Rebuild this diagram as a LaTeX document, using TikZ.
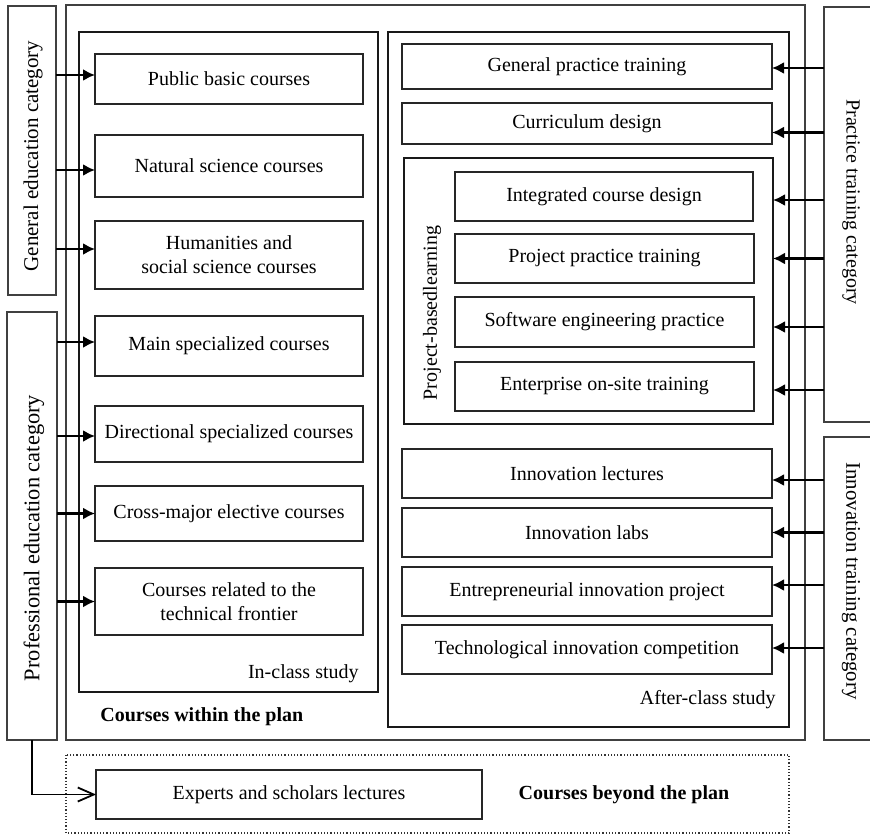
\documentclass[tikz,border=0pt]{standalone}
\usepackage{fontspec}
\setmainfont{Liberation Serif}
\usetikzlibrary{arrows.meta,fit}
\begin{document}
\begin{tikzpicture}[x=0.5pt,y=-0.5pt,
  every node/.style={font=\fontsize{10}{12}\selectfont},
  txt/.style={inner sep=0pt, align=center},
  boldtxt/.style={inner sep=0pt,font=\fontsize{10}{12}\selectfont\bfseries},
  plan/.style={draw=black!75, line width=0.6pt, inner sep=0pt, outer sep=0pt},
  studyframe/.style={draw=black!90, line width=1pt, inner sep=0pt, outer sep=0pt},
  pblframe/.style={draw=black!90, line width=1.3pt, inner sep=0pt, outer sep=0pt},
  cbox/.style={draw=black!85, line width=0.8pt, inner sep=0pt, outer sep=0pt},
  catbox/.style={draw=black!75, line width=0.6pt, inner sep=0pt, outer sep=0pt},
  arr/.style={line width=1.1pt, -{Latex[length=6pt,width=6pt]}},
  openarr/.style={line width=0.9pt, -{Straight Barb[length=8pt,width=7pt]}},
]
\useasboundingbox (0,0) rectangle (870,834);

% frames
\node[plan, fit={(66,5) (805,740)}] (planbox) {};
\node[studyframe, fit={(79,32) (378,692)}] (inclass) {};
\node[studyframe, fit={(388,32) (789,727)}] (afterclass) {};
\node[pblframe, fit={(404,158) (773,424)}] (pbl) {};
\draw[densely dotted, line width=0.6pt, draw=black!80] (66,755) rectangle (789,833);

% category boxes
\node[catbox, fit={(8,6) (56,295)}] (gen) {};
\node[rotate=90, font=\fontsize{10.5}{12}\selectfont] (genlbl) at (33,156) {General education category};
\node[catbox, fit={(7,312) (57,740)}] (prof) {};
\node[rotate=90, font=\fontsize{11.2}{13}\selectfont] (proflbl) at (34,538) {Professional education category};
\node[catbox, fit={(824,7) (900,422)}] (prac) {};
\node[rotate=-90] (praclbl) at (851,202) {Practice training category};
\node[catbox, fit={(824,437) (900,740)}] (innov) {};
\node[rotate=-90, font=\fontsize{10.4}{12}\selectfont] (innovlbl) at (851,581) {Innovation training category};

% in-class courses
\node[cbox, fit={(95,54) (363,104)}] (pub) {};
\node[txt] at (pub.center) {Public basic courses};
\node[cbox, fit={(95,135) (363,197)}] (nat) {};
\node[txt] at (nat.center) {Natural science courses};
\node[cbox, fit={(95,221) (363,289)}] (hum) {};
\node[txt] at (hum.center) {Humanities and\\social science courses};
\node[cbox, fit={(95,316) (363,376)}] (mainsp) {};
\node[txt] at (mainsp.center) {Main specialized courses};
\node[cbox, fit={(95,406) (363,462)}] (dirsp) {};
\node[txt] at (dirsp.center) {Directional specialized courses};
\node[cbox, fit={(95,486) (363,541)}] (cross) {};
\node[txt] at (cross.center) {Cross-major elective courses};
\node[cbox, fit={(95,568) (363,635)}] (front) {};
\node[txt] at (front.center) {Courses related to the\\technical frontier};
\node[txt, anchor=east] (inlbl) at (359,674) {In-class study};
\node[boldtxt, anchor=west] (withinlbl) at (100,717) {Courses within the plan};

% after-class courses
\node[cbox, fit={(402,44) (772,89)}] (gpt) {};
\node[txt] at (gpt.center) {General practice training};
\node[cbox, fit={(402,103) (772,144)}] (cur) {};
\node[txt] at (cur.center) {Curriculum design};
\node[cbox, fit={(455,172) (753,221)}] (icd) {};
\node[txt] at (icd.center) {Integrated course design};
\node[cbox, fit={(455,234) (754,283)}] (ppt) {};
\node[txt] at (ppt.center) {Project practice training};
\node[cbox, fit={(455,297) (754,347)}] (sep) {};
\node[txt] at (sep.center) {Software engineering practice};
\node[cbox, fit={(455,362) (754,411)}] (eos) {};
\node[txt] at (eos.center) {Enterprise on-site training};
\node[rotate=90] (pbllbl) at (432,313) {Project-basedlearning};
\node[cbox, fit={(402,449) (772,498)}] (ilec) {};
\node[txt] at (ilec.center) {Innovation lectures};
\node[cbox, fit={(402,508) (772,557)}] (ilab) {};
\node[txt] at (ilab.center) {Innovation labs};
\node[cbox, fit={(402,567) (772,616)}] (eip) {};
\node[txt] at (eip.center) {Entrepreneurial innovation project};
\node[cbox, fit={(402,625) (772,674)}] (tic) {};
\node[txt] at (tic.center) {Technological innovation competition};
\node[txt, anchor=east] (afterlbl) at (776,700) {After-class study};

% courses beyond the plan
\node[cbox, fit={(96,770) (482,819)}] (exp) {};
\node[txt] at (exp.center) {Experts and scholars lectures};
\node[boldtxt] (beyondlbl) at (624,795) {Courses beyond the plan};

% left connectors
\draw[arr, transform canvas={yshift=2pt}] (gen.east |- pub.west) -- (pub.west);
\draw[arr, transform canvas={yshift=-2pt}] (gen.east |- nat.west) -- (nat.west);
\draw[arr, transform canvas={yshift=3pt}] (gen.east |- hum.west) -- (hum.west);
\draw[arr, transform canvas={yshift=2pt}] (prof.east |- mainsp.west) -- (mainsp.west);
\draw[arr, transform canvas={yshift=-1pt}] (prof.east |- dirsp.west) -- (dirsp.west);
\draw[arr] (prof.east |- cross.west) -- (cross.west);
\draw[arr] (prof.east |- front.west) -- (front.west);
\draw[openarr] (prof.south) |- (exp.west);

% right connectors
\draw[arr, transform canvas={yshift=-0.75pt}] (prac.west |- gpt.east) -- (gpt.east);
\draw[arr, transform canvas={yshift=-4.5pt}] (prac.west |- cur.east) -- (cur.east);
\draw[arr, transform canvas={yshift=-1.75pt}] (prac.west |- icd.east) -- (pbl.east |- icd.east);
\draw[arr] (prac.west |- ppt.east) -- (pbl.east |- ppt.east);
\draw[arr, transform canvas={yshift=-2.5pt}] (prac.west |- sep.east) -- (pbl.east |- sep.east);
\draw[arr, transform canvas={yshift=-1.75pt}] (prac.west |- eos.east) -- (pbl.east |- eos.east);
\draw[arr, transform canvas={yshift=-3.25pt}] (innov.west |- ilec.east) -- (ilec.east);
\draw[arr] (innov.west |- ilab.east) -- (ilab.east);
\draw[arr, transform canvas={yshift=3.25pt}] (innov.west |- eip.east) -- (eip.east);
\draw[arr, transform canvas={yshift=0.75pt}] (innov.west |- tic.east) -- (tic.east);
\end{tikzpicture}
\end{document}
